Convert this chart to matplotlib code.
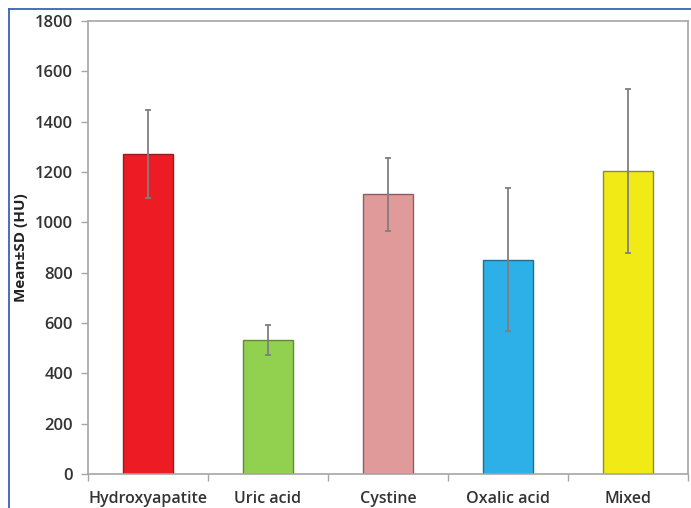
import matplotlib
matplotlib.use("Agg")
import matplotlib.pyplot as plt
from matplotlib.lines import Line2D
import numpy as np

# stone types, mean HU and SD
stones = ["Hydroxyapatite", "Uric acid", "Cystine", "Oxalic acid", "Mixed"]
mean_hu = [1271, 532, 1112, 852, 1204]
sd_hu = [176, 61, 145, 285, 326]
colors = ["#ED1C24", "#92D050", "#E09A9A", "#2DB0E8", "#F2EA14"]
edges = ["#9A1A1E", "#5E8A34", "#8E5C5C", "#1F6E92", "#8C8A3A"]

plt.rcParams["font.family"] = ["Open Sans", "DejaVu Sans"]

fig = plt.figure(figsize=(6.91, 5.08), dpi=100)
ax = fig.add_axes([88 / 691, 34 / 508, 600 / 691, 453 / 508])

x = np.arange(len(stones))
ax.bar(x, mean_hu, width=0.41, color=colors, edgecolor=edges, linewidth=1.0, zorder=2)
ax.errorbar(x, mean_hu, yerr=sd_hu, fmt="none", ecolor="#7F7F7F", elinewidth=1.3,
            capsize=2, capthick=1.3, zorder=3)

ax.set_xlim(-0.5, len(stones) - 0.5)
ax.set_ylim(0, 1800)
ax.set_yticks(np.arange(0, 1801, 200))
ax.set_xticks(x)
ax.set_xticklabels(stones)
ax.set_xticks(np.arange(-0.5, len(stones), 1.0), minor=True)

for s in ax.spines.values():
    s.set_color("#A6A6A6")
    s.set_linewidth(1.2)

ax.tick_params(axis="y", direction="out", length=5, color="#A6A6A6", width=1,
               labelsize=12, labelcolor="#333333", pad=6)
ax.tick_params(axis="x", which="major", length=0, labelsize=11.5, labelcolor="#333333", pad=12)
ax.tick_params(axis="x", which="minor", direction="out", length=5, color="#A6A6A6", width=1)
for lab in ax.get_xticklabels() + ax.get_yticklabels():
    lab.set_fontweight("semibold")

ax.set_ylabel("Mean\u00b1SD (HU)", fontsize=11, fontweight="bold", color="#222222", labelpad=5)

# blue frame of the figure panel (left and top edges)
fig.add_artist(Line2D([8.5 / 691, 8.5 / 691], [0, 1 - 8.5 / 508], color="#3B62B5", linewidth=1.3))
fig.add_artist(Line2D([8.5 / 691, 1], [1 - 8.5 / 508, 1 - 8.5 / 508], color="#3B62B5", linewidth=1.3))

fig.savefig("out.png", dpi=100, facecolor="white")
